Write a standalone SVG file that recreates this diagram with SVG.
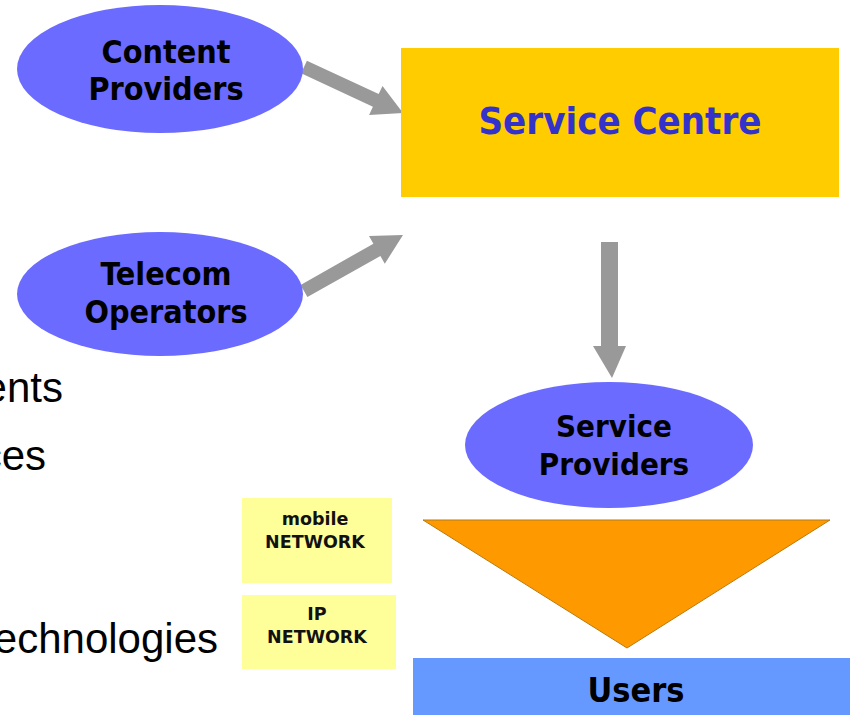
<svg xmlns="http://www.w3.org/2000/svg" width="851" height="715" viewBox="0 0 851 715">
  <style>
    .ell { fill: #6B6BFF; }
    .lbl { font-family: "DejaVu Sans Condensed", "DejaVu Sans", Verdana, sans-serif; font-stretch: condensed; font-weight: bold; fill: #000; text-anchor: middle; }
    .net { font-family: "DejaVu Sans", Verdana, sans-serif; font-weight: bold; font-size: 17.5px; fill: #111; text-anchor: middle; }
    .body { font-family: "Liberation Sans", Arial, sans-serif; font-size: 42px; fill: #000; }
    .arrow { fill: #999999; }
    .netbox { fill: #FFFF99; }
  </style>
  <rect x="0" y="0" width="851" height="715" fill="#FFFFFF"/>

  <!-- partially visible bullet text on the left -->
  <g id="bullet-text">
    <text class="body" x="63" y="402" text-anchor="end">ents</text>
    <text class="body" x="46" y="470" text-anchor="end">ces</text>
    <text class="body" x="218" y="653" text-anchor="end">echnologies</text>
  </g>

  <!-- connectors -->
  <g id="connectors">
    <polygon class="arrow" points="301.1,73.3 372.9,106.7 369.1,114.9 403,113 382.5,85.9 378.7,94.1 306.9,60.7"/>
    <polygon class="arrow" points="307.4,297.1 380.4,255.9 384.8,263.7 403,235 369,235.9 373.4,243.7 300.6,284.9"/>
    <polygon class="arrow" points="601,242 618,242 618,346 626,346 612,378 593,346 601,346"/>
  </g>

  <g id="content-providers">
    <ellipse class="ell" cx="160" cy="69" rx="143" ry="64"/>
    <text class="lbl" x="166" y="63" font-size="32">Content</text>
    <text class="lbl" x="166" y="100" font-size="32">Providers</text>
  </g>

  <g id="telecom-operators">
    <ellipse class="ell" cx="160" cy="294" rx="143" ry="62"/>
    <text class="lbl" x="166" y="285" font-size="32">Telecom</text>
    <text class="lbl" x="166" y="323" font-size="32">Operators</text>
  </g>

  <g id="service-centre">
    <rect x="401" y="48" width="438" height="149" fill="#FFCC00"/>
    <text class="lbl" x="620" y="134" font-size="38" fill="#3333CC" style="fill:#3333CC">Service Centre</text>
  </g>

  <g id="service-providers">
    <ellipse class="ell" cx="609" cy="445" rx="144" ry="63"/>
    <text class="lbl" x="614" y="437" font-size="31">Service</text>
    <text class="lbl" x="614" y="475" font-size="31">Providers</text>
  </g>

  <g id="distribution">
    <polygon points="423,520 830,520 627,648" fill="#FF9900" stroke="#B87A10" stroke-width="1"/>
  </g>

  <g id="users">
    <rect x="413" y="658" width="437" height="57" fill="#6699FF"/>
    <text class="lbl" x="636" y="702" font-size="34">Users</text>
  </g>

  <g id="mobile-network">
    <rect class="netbox" x="242" y="498" width="150" height="85"/>
    <text class="net" x="315" y="525">mobile</text>
    <text class="net" x="315" y="548">NETWORK</text>
  </g>

  <g id="ip-network">
    <rect class="netbox" x="242" y="595" width="154" height="74"/>
    <text class="net" x="317" y="620">IP</text>
    <text class="net" x="317" y="643">NETWORK</text>
  </g>
</svg>
